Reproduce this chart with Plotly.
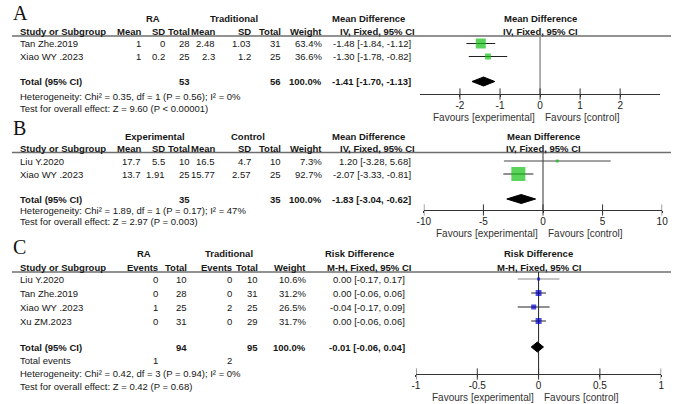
import plotly.graph_objects as go

W, H = 677, 404
FONT = "Liberation Sans, Arial, sans-serif"
SERIF = "Liberation Serif, Times New Roman, serif"
TXT = "#161616"

# ---------------- Panel A data ----------------
a_studies = ["Tan Zhe.2019", "Xiao WY .2023"]
a_e_mean = ["1", "1"]
a_e_sd = ["0", "0.2"]
a_e_n = [28, 25]
a_c_mean = ["2.48", "2.3"]
a_c_sd = ["1.03", "1.2"]
a_c_n = [31, 25]
a_weight = [63.4, 36.6]
a_est = [-1.48, -1.30]
a_lo = [-1.84, -1.78]
a_hi = [-1.12, -0.82]
a_tot = [-1.41, -1.70, -1.13]
a_tot_n = [53, 56]
a_groups = ["RA", "Traditional"]
a_footer = ["Heterogeneity: Chi² = 0.35, df = 1 (P = 0.56); I² = 0%",
            "Test for overall effect: Z = 9.60 (P < 0.00001)"]
a_ticks = [-2, -1, 0, 1, 2]
a_ticktext = ["-2", "-1", "0", "1", "2"]
a_range = [-3, 3]

# ---------------- Panel B data ----------------
b_studies = ["Liu Y.2020", "Xiao WY .2023"]
b_e_mean = ["17.7", "13.7"]
b_e_sd = ["5.5", "1.91"]
b_e_n = [10, 25]
b_c_mean = ["16.5", "15.77"]
b_c_sd = ["4.7", "2.57"]
b_c_n = [10, 25]
b_weight = [7.3, 92.7]
b_est = [1.20, -2.07]
b_lo = [-3.28, -3.33]
b_hi = [5.68, -0.81]
b_tot = [-1.83, -3.04, -0.62]
b_tot_n = [35, 35]
b_groups = ["Experimental", "Control"]
b_footer = ["Heterogeneity: Chi² = 1.89, df = 1 (P = 0.17); I² = 47%",
            "Test for overall effect: Z = 2.97 (P = 0.003)"]
b_ticks = [-10, -5, 0, 5, 10]
b_ticktext = ["-10", "-5", "0", "5", "10"]
b_range = [-10, 10]

# ---------------- Panel C data ----------------
c_studies = ["Liu Y.2020", "Tan Zhe.2019", "Xiao WY .2023", "Xu ZM.2023"]
c_e_ev = [0, 0, 1, 0]
c_e_n = [10, 28, 25, 31]
c_c_ev = [0, 0, 2, 0]
c_c_n = [10, 31, 25, 29]
c_weight = [10.6, 31.2, 26.5, 31.7]
c_est = [0.00, 0.00, -0.04, 0.00]
c_lo = [-0.17, -0.06, -0.17, -0.06]
c_hi = [0.17, 0.06, 0.09, 0.06]
c_tot = [-0.01, -0.06, 0.04]
c_tot_n = [94, 95]
c_tot_events = [1, 2]
c_groups = ["RA", "Traditional"]
c_footer = ["Heterogeneity: Chi² = 0.42, df = 3 (P = 0.94); I² = 0%",
            "Test for overall effect: Z = 0.42 (P = 0.68)"]
c_ticks = [-1, -0.5, 0, 0.5, 1]
c_ticktext = ["-1", "-0.5", "0", "0.5", "1"]
c_range = [-1, 1]

# ---------------- helpers ----------------
fig = go.Figure()
ann = []


def txt(x, y, s, anchor="left", bold=False, size=9.5, color=TXT, xref="x", family=FONT):
    ann.append(dict(x=x, y=y, xref=xref, yref="y",
                    text=f"<b>{s}</b>" if bold else s,
                    showarrow=False, xanchor=anchor, yanchor="middle",
                    borderpad=0, font=dict(family=family, size=size, color=color)))


def ci(v, lo, hi):
    return f"{v:.2f} [{lo:.2f}, {hi:.2f}]"


def hline(y):
    fig.add_trace(go.Scatter(x=[5, W], y=[y, y], mode="lines", xaxis="x", yaxis="y",
                             line=dict(color="#6e6e6e", width=1.4), hoverinfo="skip",
                             showlegend=False))


def forest(ax, g, est, lo, hi, weights, tot, sq_max, sq_color, ci_cols,
           zero_col, zero_w, ticks, dh):
    rows = g["rows"]
    fig.add_trace(go.Scatter(x=[0, 0], y=[g["line"], g["axis"]], mode="lines",
                             xaxis=ax, yaxis="y", line=dict(color=zero_col, width=zero_w),
                             hoverinfo="skip", showlegend=False))
    for i in range(len(est)):
        fig.add_trace(go.Scatter(x=[lo[i], hi[i]], y=[rows[i], rows[i]], mode="lines",
                                 xaxis=ax, yaxis="y", line=dict(color=ci_cols[i], width=1),
                                 hoverinfo="skip", showlegend=False))
    wmax = max(weights)
    sizes = [max(3, sq_max * w / wmax) for w in weights]
    fig.add_trace(go.Scatter(x=est, y=rows, mode="markers", xaxis=ax, yaxis="y",
                             marker=dict(symbol="square", size=sizes, color=sq_color,
                                         line=dict(width=0)),
                             hoverinfo="skip", showlegend=False))
    ty = g["total"]
    fig.add_trace(go.Scatter(x=[tot[1], tot[0], tot[2], tot[0], tot[1]],
                             y=[ty, ty - dh / 2, ty, ty + dh / 2, ty],
                             mode="lines", fill="toself", fillcolor="black",
                             xaxis=ax, yaxis="y", line=dict(color="black", width=1),
                             hoverinfo="skip", showlegend=False))
    fig.add_trace(go.Scatter(x=ticks, y=[g["axis"]] * len(ticks), mode="markers",
                             xaxis=ax, yaxis="y",
                             marker=dict(symbol="line-ns", size=8,
                                         line=dict(width=1, color="#333")),
                             hoverinfo="skip", showlegend=False))
    txt(0, g["fav"], "Favours [experimental]", anchor="right", size=10, xref=ax, color="#333")
    ann[-1]["xshift"] = -4
    txt(0, g["fav"], "Favours [control]", anchor="left", size=10, xref=ax, color="#333")
    ann[-1]["xshift"] = 4


# ---------------- geometry (pixels) ----------------
gA = dict(label=13, h1=18.5, h2=31.5, line=36, rows=[43.5, 56.5], total=81.5,
          foot=[96, 108.5], axis=94, fav=117, x0=421, x1=666)
gB = dict(label=128, h1=136, h2=148.5, line=152.5, rows=[161, 174], total=199,
          foot=[210, 221.5], axis=210, fav=233, x0=425, x1=668)
gC = dict(label=247, h1=253.5, h2=267, line=272, rows=[279, 293, 307, 321], total=347,
          events=360, foot=[373, 386], axis=374, fav=397, x0=417, x1=667)

md_cols = [138, 162, 188, 213, 250, 280]
md_w = 322
md_ci = 413
rd_cols = [155, 185, 230, 257]
rd_w = 306
rd_ci = 407
NAME_X = 12


def md_panel(letter, g, groups, gcenters, studies, em, esd, en, cm, csd, cn, weight,
             est, lo, hi, tot, tot_n, footer, ax):
    txt(5, g["label"], letter, size=20, family=SERIF, color="#111")
    txt(gcenters[0], g["h1"], groups[0], anchor="center", bold=True)
    txt(gcenters[1], g["h1"], groups[1], anchor="center", bold=True)
    txt(369, g["h1"], "Mean Difference", anchor="center", bold=True)
    txt(0, g["h1"], "Mean Difference", anchor="center", bold=True, xref=ax)
    txt(NAME_X, g["h2"], "Study or Subgroup", bold=True)
    for x, s in zip(md_cols, ["Mean", "SD", "Total", "Mean", "SD", "Total"]):
        txt(x, g["h2"], s, anchor="right", bold=True)
    txt(md_w, g["h2"], "Weight", anchor="right", bold=True)
    txt(378, g["h2"], "IV, Fixed, 95% CI", anchor="center", bold=True)
    txt(0, g["h2"], "IV, Fixed, 95% CI", anchor="center", bold=True, xref=ax)
    hline(g["line"])
    for i, name in enumerate(studies):
        y = g["rows"][i]
        txt(NAME_X, y, name)
        vals = [em[i], esd[i], str(en[i]), cm[i], csd[i], str(cn[i])]
        for x, s in zip(md_cols, vals):
            txt(x, y, s, anchor="right")
        txt(md_w, y, f"{weight[i]:.1f}%", anchor="right")
        txt(md_ci, y, ci(est[i], lo[i], hi[i]), anchor="right")
    y = g["total"]
    txt(NAME_X, y, "Total (95% CI)", bold=True)
    txt(md_cols[2], y, str(tot_n[0]), anchor="right", bold=True)
    txt(md_cols[5], y, str(tot_n[1]), anchor="right", bold=True)
    txt(md_w, y, f"{sum(weight):.1f}%", anchor="right", bold=True)
    txt(md_ci, y, ci(*tot), anchor="right", bold=True)
    for yy, s in zip(g["foot"], footer):
        txt(NAME_X, yy, s)


md_panel("A", gA, a_groups, [149, 231], a_studies, a_e_mean, a_e_sd, a_e_n, a_c_mean,
         a_c_sd, a_c_n, a_weight, a_est, a_lo, a_hi, a_tot, a_tot_n, a_footer, "x2")
forest("x2", gA, a_est, a_lo, a_hi, a_weight, a_tot, 10, "#14c014",
       ["#222", "#222"], "#9a9a9a", 1.6, a_ticks, 9)

md_panel("B", gB, b_groups, [151, 246], b_studies, b_e_mean, b_e_sd, b_e_n, b_c_mean,
         b_c_sd, b_c_n, b_weight, b_est, b_lo, b_hi, b_tot, b_tot_n, b_footer, "x3")
forest("x3", gB, b_est, b_lo, b_hi, b_weight, b_tot, 14, "#14c014",
       ["#444", "#222"], "#333", 1, b_ticks, 9)

# Panel C table
g = gC
txt(5, g["label"], "C", size=20, family=SERIF, color="#111")
txt(140, g["h1"], c_groups[0], anchor="center", bold=True)
txt(226, g["h1"], c_groups[1], anchor="center", bold=True)
txt(359, g["h1"], "Risk Difference", anchor="center", bold=True)
txt(0, g["h1"], "Risk Difference", anchor="center", bold=True, xref="x4")
txt(NAME_X, g["h2"], "Study or Subgroup", bold=True)
for x, s in zip(rd_cols, ["Events", "Total", "Events", "Total"]):
    txt(x, g["h2"], s, anchor="right", bold=True)
txt(rd_w, g["h2"], "Weight", anchor="right", bold=True)
txt(369, g["h2"], "M-H, Fixed, 95% CI", anchor="center", bold=True)
txt(0, g["h2"], "M-H, Fixed, 95% CI", anchor="center", bold=True, xref="x4")
hline(g["line"])
for i, name in enumerate(c_studies):
    y = g["rows"][i]
    txt(NAME_X, y, name)
    for x, v in zip(rd_cols, [c_e_ev[i], c_e_n[i], c_c_ev[i], c_c_n[i]]):
        txt(x, y, str(v), anchor="right")
    txt(rd_w, y, f"{c_weight[i]:.1f}%", anchor="right")
    txt(rd_ci, y, ci(c_est[i], c_lo[i], c_hi[i]), anchor="right")
y = g["total"]
txt(NAME_X, y, "Total (95% CI)", bold=True)
txt(rd_cols[1], y, str(c_tot_n[0]), anchor="right", bold=True)
txt(rd_cols[3], y, str(c_tot_n[1]), anchor="right", bold=True)
txt(rd_w, y, f"{sum(c_weight):.1f}%", anchor="right", bold=True)
txt(rd_ci, y, ci(*c_tot), anchor="right", bold=True)
txt(NAME_X, g["events"], "Total events")
txt(rd_cols[0], g["events"], str(c_tot_events[0]), anchor="right")
txt(rd_cols[2], g["events"], str(c_tot_events[1]), anchor="right")
for yy, s in zip(g["foot"], c_footer):
    txt(NAME_X, yy, s)
forest("x4", gC, c_est, c_lo, c_hi, c_weight, c_tot, 6, "#0000c8",
       ["#8a8a8a", "#222", "#222", "#222"], "#222", 1, c_ticks, 10)


def fax(g, rng, ticks, ticktext):
    return dict(domain=[g["x0"] / W, g["x1"] / W], range=rng, anchor="free",
                position=1 - g["axis"] / H, showline=True, linecolor="#333",
                linewidth=1, ticks="outside", ticklen=2, tickcolor="#333",
                tickvals=ticks, ticktext=ticktext, showgrid=False, zeroline=False,
                tickfont=dict(family=FONT, size=10, color="#222"), fixedrange=True)


fig.update_layout(
    width=W, height=H, autosize=False,
    margin=dict(l=0, r=0, t=0, b=0, pad=0),
    paper_bgcolor="white", plot_bgcolor="rgba(0,0,0,0)",
    showlegend=False,
    xaxis=dict(domain=[0, 1], range=[0, W], visible=False, fixedrange=True),
    yaxis=dict(domain=[0, 1], range=[H, 0], visible=False, fixedrange=True),
    xaxis2=fax(gA, a_range, a_ticks, a_ticktext),
    xaxis3=fax(gB, b_range, b_ticks, b_ticktext),
    xaxis4=fax(gC, c_range, c_ticks, c_ticktext),
    annotations=ann,
)

fig.write_html("out.html", config={"displayModeBar": False})
